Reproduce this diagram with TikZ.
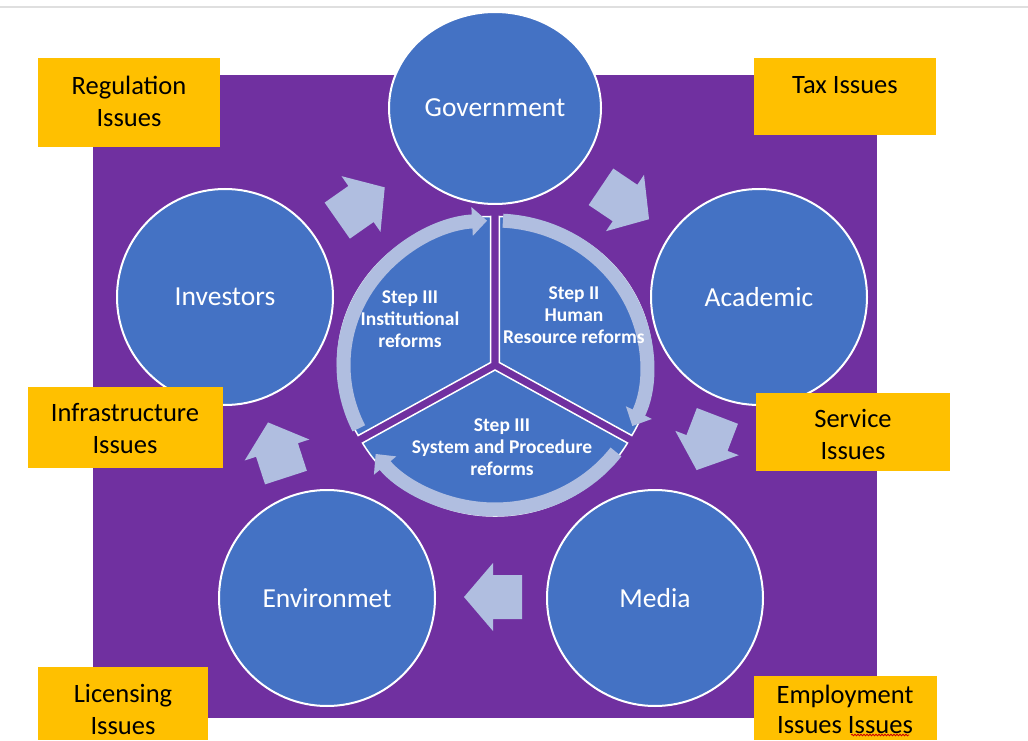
\documentclass[tikz,border=0pt]{standalone}
\usepackage{fontspec}
\setmainfont{Carlito}
\usetikzlibrary{arrows.meta,shapes.geometric,decorations.pathmorphing}
\definecolor{issueyellow}{HTML}{FFC000}
\definecolor{frameviolet}{HTML}{7030A0}
\definecolor{actorblue}{HTML}{4472C4}
\definecolor{flowgray}{RGB}{176,190,224}
\tikzset{
  issue/.style={fill=issueyellow},
  issuetext/.style={font=\fontsize{26.5}{32}\selectfont, align=center, text=black},
  actor/.style={circle, fill=actorblue, draw=white, line width=2pt, inner sep=0pt,
    minimum size=216, font=\fontsize{27.5}{30}\selectfont, text=white},
  sector/.style={fill=actorblue, draw=white, line width=1.5pt},
  steptext/.style={font=\bfseries\fontsize{19.5}{22}\selectfont, text=white, align=center},
  flow/.style={fill=flowgray},
  ringflow/.style={draw=flowgray, line width=14pt, -{Triangle[width=28pt,length=15pt]}},
}
% block arrow: centre, direction
\newcommand{\flowarrow}[2]{\fill[flow, shift={#1}, rotate=#2]
  (-29,-22) -- (0,-22) -- (0,-34) -- (29,0) -- (0,34) -- (0,22) -- (-29,22) -- cycle;}
\begin{document}
\begin{tikzpicture}[x=1pt,y=1pt]
  \useasboundingbox (0,0) rectangle (1028,740);
  \draw[gray!25, line width=1.5pt] (0,733) -- (1028,733);
  \fill[frameviolet] (93,22) rectangle (877,665);
  % actors
  \node[actor, ellipse, minimum width=212, minimum height=192] (gov) at (495,632) {Government};
  \node[actor] (acad) at (759,443) {Academic};
  \node[actor] (media) at (655,142) {Media};
  \node[actor] (env) at (327,142) {Environmet};
  \node[actor] (inv) at (225,443) {Investors};
  % flow between actors
  \flowarrow{(361,536)}{35}
  \flowarrow{(625,537)}{-34}
  \flowarrow{(707,297)}{-111}
  \flowarrow{(493,143)}{180}
  \flowarrow{(277,290)}{108}
  % reform steps
  \coordinate (pc) at (495,375);
  \foreach \s/\m in {90/150,-30/30,210/270}
    \filldraw[sector] ([shift={(\m:5)}]pc) -- ++(\s:153 and 146)
      arc[start angle=\s, end angle=\s+120, x radius=153, y radius=146] -- cycle;
  \draw[ringflow] ([shift={(206:151.5 and 144.5)}]pc)
    arc[start angle=206, end angle=93, x radius=151.5, y radius=144.5];
  \draw[ringflow] ([shift={(87:151.5 and 144.5)}]pc)
    arc[start angle=87, end angle=-25, x radius=151.5, y radius=144.5];
  \draw[ringflow] ([shift={(-37:151.5 and 144.5)}]pc)
    arc[start angle=-37, end angle=-142, x radius=151.5, y radius=144.5];
  \node[steptext] (inst) at (410,421) {Step III\\Institutional\\reforms};
  \node[steptext] (hr) at (574,425) {Step II\\Human\\Resource reforms};
  \node[steptext] (sys) at (502,293) {Step III\\System and Procedure\\reforms};
  % issues
  \fill[issue] (38,593) rectangle (220,682);
  \node[issuetext] (reg) at (129,639) {Regulation\\Issues};
  \fill[issue] (754,605) rectangle (936,682);
  \node[issuetext] (tax) at (845,655) {Tax Issues};
  \fill[issue] (28,272) rectangle (223,353);
  \node[issuetext] (infra) at (125,311) {Infrastructure\\Issues};
  \fill[issue] (756,269) rectangle (950,347);
  \node[issuetext] (serv) at (853,306) {Service\\Issues};
  \fill[issue] (38,0) rectangle (208,73);
  \node[issuetext] (lic) at (123,31) {Licensing\\Issues};
  \fill[issue] (754,0) rectangle (937,64);
  \node[issuetext, font=\fontsize{26.5}{30}\selectfont] (emp) at (845,31) {Employment\\Issues Issues};
  \draw[red!80!black, line width=0.8pt, decorate,
    decoration={snake, amplitude=0.8pt, segment length=3pt}] (851,5) -- (909,5);
\end{tikzpicture}
\end{document}
